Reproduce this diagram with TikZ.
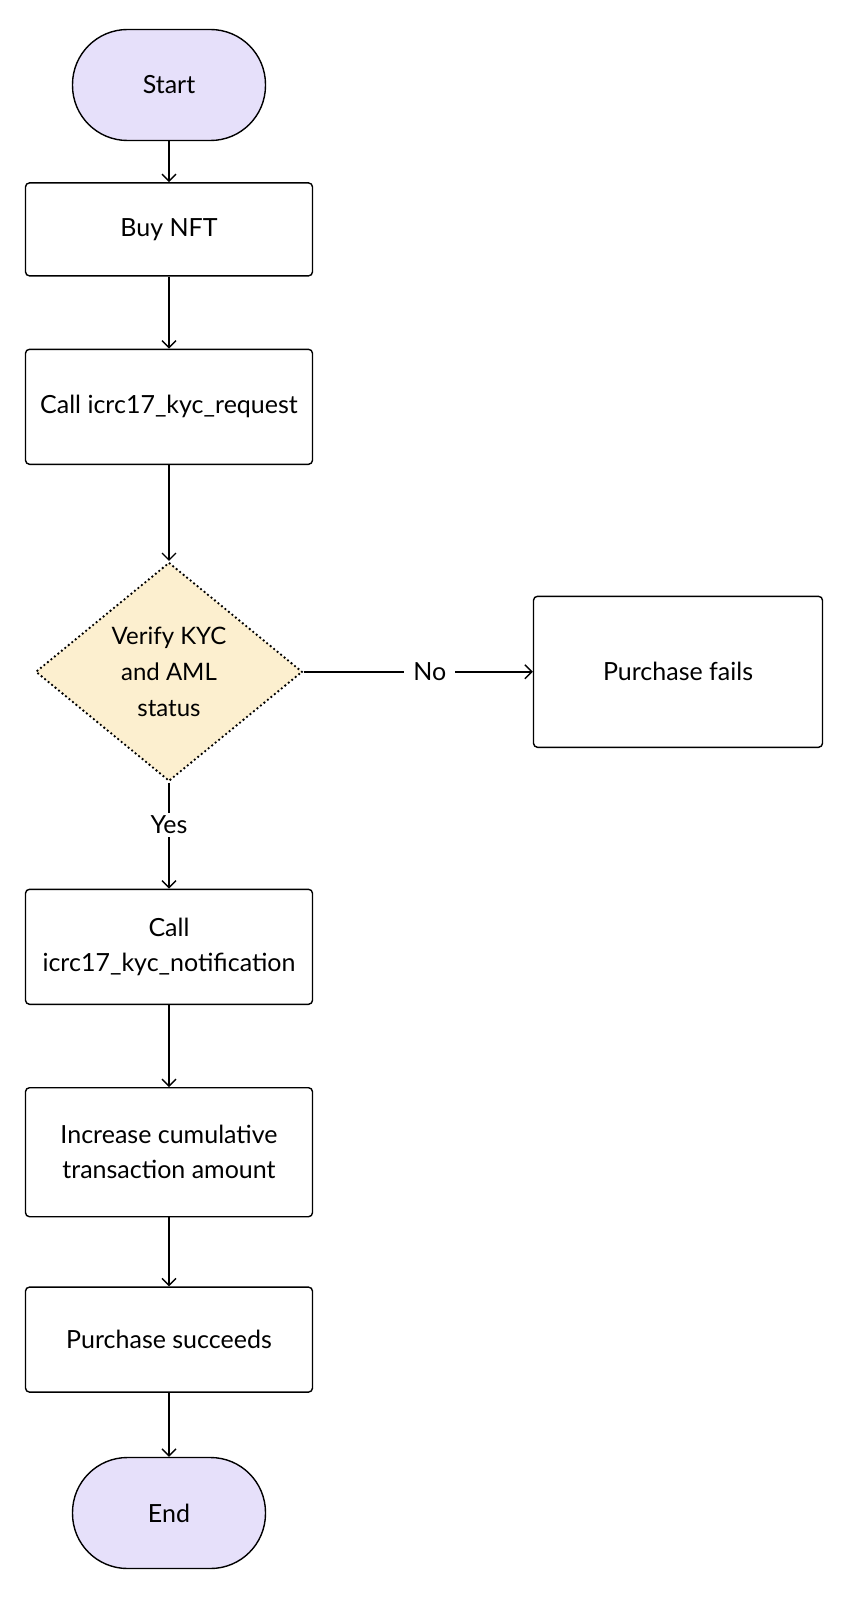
\documentclass[tikz,border=0pt]{standalone}
\usepackage{fontspec}
\setmainfont{Lato}
\usepackage{tikz}
\usetikzlibrary{arrows.meta,positioning,shapes.geometric}
\definecolor{termfill}{HTML}{E6E0FA}
\definecolor{checkfill}{HTML}{FCEFCF}
\tikzset{
  terminal/.style={rectangle,rounded corners=55pt,draw=black,fill=termfill,line width=1.4pt,minimum width=193pt,minimum height=111pt,align=center,font=\fontsize{25}{36}\selectfont},
  stepbox/.style={rectangle,rounded corners=4pt,draw=black,fill=white,line width=1.4pt,minimum width=287pt,align=center,font=\fontsize{25}{35}\selectfont},
  check/.style={diamond,aspect=1.22,draw=black,fill=checkfill,line width=2.6pt,dash pattern=on 0pt off 4.5pt,line cap=round,minimum width=267pt,minimum height=219pt,align=center,inner sep=0pt,font=\fontsize{24}{36}\selectfont},
  arrow/.style={-{Straight Barb[length=7pt,width=14pt]},line width=1.4pt},
  lbl/.style={fill=white,inner xsep=9pt,font=\fontsize{25}{30}\selectfont}
}

\begin{document}
\begin{tikzpicture}[x=1pt,y=1pt]
  \useasboundingbox (0,0) rectangle (848,-1600);
  \node[terminal] (start) at (169,-85) {Start};
  \node[stepbox, minimum height=93pt, below=41pt of start] (buy) {Buy NFT};
  \node[stepbox, minimum height=115pt, below=72pt of buy] (request) {Call icrc17\_kyc\_request};
  \node[check, below=96pt of request] (check) {Verify KYC\\and AML\\status};
  \node[stepbox, minimum width=289pt, minimum height=151pt, right=229pt of check] (fails) {Purchase fails};
  \node[stepbox, minimum height=115pt, below=106pt of check] (notify) {Call\\icrc17\_kyc\_notification};
  \node[stepbox, minimum height=129pt, below=82pt of notify] (increase) {Increase cumulative\\transaction amount};
  \node[stepbox, minimum height=105pt, below=69pt of increase] (success) {Purchase succeeds};
  \node[terminal, below=64pt of success] (end) {End};
  \draw[arrow] (start) -- (buy);
  \draw[arrow] (buy) -- (request);
  \draw[arrow] (request) -- (check);
  \draw[arrow] (check) -- node[lbl,pos=0.55]{No} (fails);
  \draw[arrow] (check) -- node[lbl,pos=0.4]{Yes} (notify);
  \draw[arrow] (notify) -- (increase);
  \draw[arrow] (increase) -- (success);
  \draw[arrow] (success) -- (end);
\end{tikzpicture}
\end{document}
